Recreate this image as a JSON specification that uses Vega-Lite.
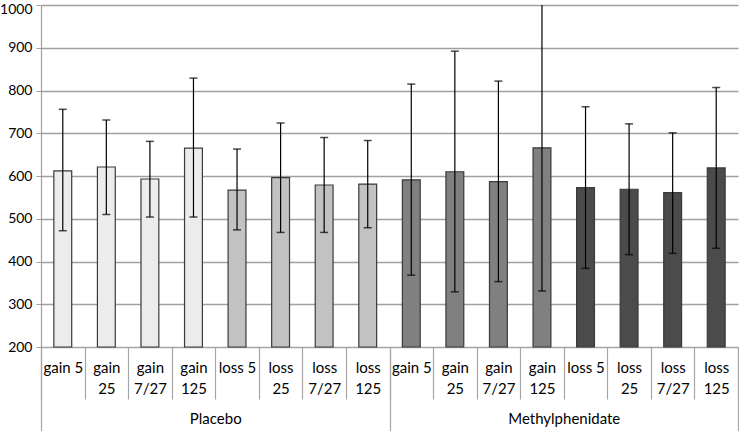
{
  "$schema": "https://vega.github.io/schema/vega-lite/v6.json",
  "width": 697,
  "height": 342,
  "autosize": {"type": "none"},
  "padding": {"left": 41, "top": 5, "right": 1, "bottom": 84},
  "background": "white",
  "config": {
    "font": "Lato",
    "view": {"stroke": null},
    "axis": {"labelFont": "Lato", "labelFontSize": 15, "labelColor": "#000000", "titleFont": "Lato"}
  },
  "data": {
    "values": [
      {"cond": "P|gain 5", "group": "Placebo", "cat": "Placebo gain", "mean": 612, "lo": 472, "hi": 756},
      {"cond": "P|gain|25", "group": "Placebo", "cat": "Placebo gain", "mean": 621, "lo": 510, "hi": 731},
      {"cond": "P|gain|7/27", "group": "Placebo", "cat": "Placebo gain", "mean": 593, "lo": 504, "hi": 681},
      {"cond": "P|gain|125", "group": "Placebo", "cat": "Placebo gain", "mean": 665, "lo": 504, "hi": 829},
      {"cond": "P|loss 5", "group": "Placebo", "cat": "Placebo loss", "mean": 567, "lo": 474, "hi": 663},
      {"cond": "P|loss|25", "group": "Placebo", "cat": "Placebo loss", "mean": 596, "lo": 468, "hi": 724},
      {"cond": "P|loss|7/27", "group": "Placebo", "cat": "Placebo loss", "mean": 579, "lo": 468, "hi": 690},
      {"cond": "P|loss|125", "group": "Placebo", "cat": "Placebo loss", "mean": 581, "lo": 479, "hi": 683},
      {"cond": "M|gain 5", "group": "Methylphenidate", "cat": "Methylphenidate gain", "mean": 591, "lo": 368, "hi": 815},
      {"cond": "M|gain|25", "group": "Methylphenidate", "cat": "Methylphenidate gain", "mean": 610, "lo": 329, "hi": 892},
      {"cond": "M|gain|7/27", "group": "Methylphenidate", "cat": "Methylphenidate gain", "mean": 587, "lo": 353, "hi": 822},
      {"cond": "M|gain|125", "group": "Methylphenidate", "cat": "Methylphenidate gain", "mean": 666, "lo": 331, "hi": 1002},
      {"cond": "M|loss 5", "group": "Methylphenidate", "cat": "Methylphenidate loss", "mean": 573, "lo": 384, "hi": 762},
      {"cond": "M|loss|25", "group": "Methylphenidate", "cat": "Methylphenidate loss", "mean": 569, "lo": 416, "hi": 722},
      {"cond": "M|loss|7/27", "group": "Methylphenidate", "cat": "Methylphenidate loss", "mean": 561, "lo": 419, "hi": 701},
      {"cond": "M|loss|125", "group": "Methylphenidate", "cat": "Methylphenidate loss", "mean": 619, "lo": 431, "hi": 807}
    ]
  },
  "layer": [
    {
      "encoding": {
        "x": {
          "field": "cond",
          "type": "nominal",
          "sort": null,
          "scale": {"paddingInner": 0, "paddingOuter": 0},
          "axis": {
            "title": null,
            "labelAngle": 0,
            "labelExpr": "slice(split(datum.value, '|'), 1)",
            "labelLineHeight": 21,
            "labelPadding": -39,
            "labelBaseline": "top",
            "tickBand": "extent",
            "tickSize": 52,
            "tickColor": "#a6a6a6",
            "tickWidth": 1.2,
            "domainColor": "#a6a6a6",
            "domainWidth": 1.2,
            "grid": false
          }
        }
      },
      "layer": [
        {
          "mark": {"type": "bar", "width": {"band": 0.41}, "stroke": "#3a3a3a", "strokeWidth": 1.2},
          "encoding": {
            "y": {
              "field": "mean",
              "type": "quantitative",
              "scale": {"domain": [200, 1000], "nice": false, "zero": false},
              "axis": {
                "title": null,
                "format": "d",
                "values": [200, 300, 400, 500, 600, 700, 800, 900, 1000],
                "labelFontSize": 14,
                "labelOffset": {"condition": {"test": "datum.value === 1000", "value": 4}, "value": 0},
                "grid": true,
                "gridColor": "#a0a0a0",
                "gridWidth": 1.5,
                "domainColor": "#a0a0a0",
                "domainWidth": 1.2,
                "tickColor": "#a0a0a0",
                "tickSize": 5,
                "labelPadding": 4
              }
            },
            "y2": {"datum": 200},
            "fill": {
              "field": "cat",
              "type": "nominal",
              "legend": null,
              "scale": {
                "domain": ["Placebo gain", "Placebo loss", "Methylphenidate gain", "Methylphenidate loss"],
                "range": ["#ececec", "#c2c2c2", "#808080", "#4b4b4b"]
              }
            }
          }
        },
        {
          "mark": {"type": "rule", "color": "#000000", "strokeWidth": 1.2, "clip": true},
          "encoding": {
            "y": {"field": "lo", "type": "quantitative", "title": null},
            "y2": {"field": "hi"}
          }
        },
        {
          "mark": {"type": "tick", "color": "#000000", "size": 8, "thickness": 1.5, "clip": true},
          "encoding": {"y": {"field": "hi", "type": "quantitative", "title": null}}
        },
        {
          "mark": {"type": "tick", "color": "#000000", "size": 8, "thickness": 1.5, "clip": true},
          "encoding": {"y": {"field": "lo", "type": "quantitative", "title": null}}
        }
      ]
    },
    {
      "mark": {"type": "text", "text": ""},
      "encoding": {
        "x": {
          "field": "group",
          "type": "nominal",
          "sort": ["Placebo", "Methylphenidate"],
          "scale": {"paddingInner": 0, "paddingOuter": 0},
          "axis": {
            "orient": "bottom",
            "title": null,
            "labelAngle": 0,
            "domain": false,
            "grid": false,
            "tickBand": "extent",
            "tickSize": 84,
            "tickColor": "#a6a6a6",
            "tickWidth": 1.2,
            "labelPadding": -20,
            "labelBaseline": "top"
          }
        }
      }
    }
  ],
  "resolve": {"scale": {"x": "independent"}}
}
